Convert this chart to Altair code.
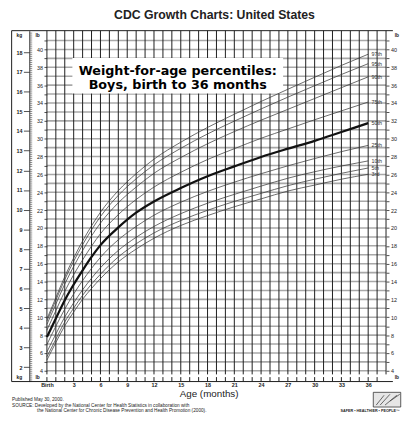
import altair as alt
import pandas as pd

# ---------------- data (kg) ----------------
ages = [0, 1, 2, 3, 4, 5, 6, 8, 10, 12, 15, 18, 21, 24, 27, 30, 33, 36]
p3 = [2.36, 3.25, 4.10, 4.80, 5.45, 6.00, 6.50, 7.35, 8.00, 8.55, 9.20, 9.70, 10.15, 10.55, 10.95, 11.25, 11.55, 11.80]
p5 = [2.53, 3.42, 4.30, 5.00, 5.65, 6.22, 6.72, 7.60, 8.27, 8.82, 9.45, 9.97, 10.42, 10.83, 11.22, 11.55, 11.85, 12.12]
p10 = [2.77, 3.68, 4.55, 5.27, 5.93, 6.52, 7.05, 7.93, 8.60, 9.15, 9.80, 10.33, 10.78, 11.20, 11.60, 11.93, 12.22, 12.48]
p25 = [3.15, 4.08, 4.95, 5.72, 6.40, 7.02, 7.58, 8.47, 9.15, 9.72, 10.38, 10.93, 11.40, 11.83, 12.23, 12.60, 12.95, 13.27]
p50 = [3.53, 4.47, 5.40, 6.20, 6.92, 7.60, 8.20, 9.10, 9.85, 10.42, 11.10, 11.70, 12.20, 12.68, 13.10, 13.50, 13.95, 14.40]
p75 = [3.88, 4.87, 5.85, 6.70, 7.45, 8.15, 8.78, 9.75, 10.52, 11.15, 11.90, 12.55, 13.10, 13.63, 14.10, 14.57, 15.02, 15.47]
p90 = [4.17, 5.20, 6.22, 7.12, 7.93, 8.67, 9.32, 10.35, 11.15, 11.85, 12.65, 13.35, 13.97, 14.55, 15.10, 15.65, 16.20, 16.75]
p95 = [4.34, 5.40, 6.45, 7.38, 8.22, 8.98, 9.65, 10.73, 11.57, 12.28, 13.12, 13.85, 14.50, 15.12, 15.72, 16.30, 16.87, 17.42]
p97 = [4.45, 5.53, 6.60, 7.55, 8.41, 9.18, 9.87, 10.97, 11.83, 12.57, 13.43, 14.18, 14.85, 15.50, 16.12, 16.73, 17.33, 17.90]
pct_names = ["3rd", "5th", "10th", "25th", "50th", "75th", "90th", "95th", "97th"]
series = [p3, p5, p10, p25, p50, p75, p90, p95, p97]

x_ticks = [0, 3, 6, 9, 12, 15, 18, 21, 24, 27, 30, 33, 36]
x_tick_labels = ["Birth", "3", "6", "9", "12", "15", "18", "21", "24", "27", "30", "33", "36"]
grid_months = list(range(0, 39))
strip_months = list(range(0, 38))
lb_ticks = list(range(4, 42))
kg_ticks = list(range(2, 19))
kg_minor = [round(v / 10, 1) for v in range(13, 191)]

title_text = "CDC Growth Charts: United States"
inner_title = ["Weight-for-age percentiles:", "Boys, birth to 36 months"]
x_title = "Age (months)"
footer = [
    "Published May 30, 2000.",
    "SOURCE: Developed by the National Center for Health Statistics in collaboration with",
    "the National Center for Chronic Disease Prevention and Health Promotion (2000).",
]
logo_text = "SAFER \u2022 HEALTHIER \u2022 PEOPLE\u2122"

# ---------------- layout ----------------
W, H = 346, 358
LB = 2.20462
LB_DOM = [2.8, 42.1]
KG_DOM = [LB_DOM[0] / LB, LB_DOM[1] / LB]
FONT = "Liberation Sans"

rows = []
for name, vals in zip(pct_names, series):
    for a, v in zip(ages, vals):
        rows.append({"age": a, "kg": v, "pct": name})
curves = pd.DataFrame(rows)
ends = pd.DataFrame({"age": [ages[-1]] * len(series),
                     "kg": [s[-1] for s in series], "pct": pct_names})

x_scale = alt.Scale(domain=[0, 38], nice=False, zero=False)
y_scale = alt.Scale(domain=LB_DOM, nice=False, zero=False)
label_expr = " : ".join(f"datum.value == {v} ? '{t}'" for v, t in zip(x_ticks, x_tick_labels)) + " : ''"
x_axis = alt.Axis(values=x_ticks, labelExpr=label_expr, ticks=False, domain=False, grid=False,
                  title=None, labelFontSize=5.5, labelFontWeight="bold", labelFont=FONT,
                  labelColor="#222", labelPadding=1.5, labelFlush=False, labelOverlap=False)
lb_left_axis = alt.Axis(orient="left", values=lb_ticks, labelExpr="datum.value % 2 == 0 ? datum.label : ''",
                        tickSize=3, tickColor="#222", tickWidth=0.8, domain=False, grid=False, title=None,
                        labelFontSize=5.5, labelFont=FONT, labelColor="#222", labelPadding=1.5,
                        labelOverlap=False)

X = lambda f: alt.X(f, type="quantitative", scale=x_scale, axis=x_axis)
Y = lambda f: alt.Y(f, type="quantitative", scale=y_scale, axis=lb_left_axis)

hgrid = alt.Chart(pd.DataFrame({"lb": lb_ticks})).mark_rule(color="#a8a8a8", strokeWidth=1.6).encode(
    y=Y("lb"), x=alt.value(0), x2=alt.value(W))

vgrid = alt.Chart(pd.DataFrame({"m": grid_months})).transform_calculate(
    y0="3.6", y1="42.1").mark_rule(color="#1c1c1c", strokeWidth=1).encode(
    x=X("m"), y=Y("y0:Q"), y2="y1:Q")

strip = alt.Chart(pd.DataFrame({"m": strip_months})).transform_calculate(
    y0="2.8", y1="3.3").mark_rule(color="#1c1c1c", strokeWidth=1).encode(
    x=X("m"), y=Y("y0:Q"), y2="y1:Q")

box = alt.Chart(alt.Data(values=[{}])).mark_rect(color="white").encode(
    x=alt.value(26), x2=alt.value(241), y=alt.value(28), y2=alt.value(64))

thin = alt.Chart(curves).transform_filter("datum.pct != '50th'").transform_calculate(
    lb=f"datum.kg * {LB}").mark_line(interpolate="monotone", color="#383838", strokeWidth=0.75).encode(
    x=X("age"), y=Y("lb:Q"), detail="pct:N")

bold = alt.Chart(curves).transform_filter("datum.pct == '50th'").transform_calculate(
    lb=f"datum.kg * {LB}").mark_line(interpolate="monotone", color="#111", strokeWidth=2.3).encode(
    x=X("age"), y=Y("lb:Q"))

labels = alt.Chart(ends).transform_calculate(lb=f"datum.kg * {LB}").mark_text(
    align="left", baseline="middle", dx=3.5, fontSize=5.5, font=FONT, color="#333").encode(
    x=X("age"), y=Y("lb:Q"), text="pct:N")

main = alt.layer(hgrid, vgrid, strip, box, thin, bold, labels)

# kg axis (major), kg minor comb, right lb axis
kg_major = alt.Chart(pd.DataFrame({"kg": KG_DOM})).mark_point(opacity=0).encode(
    y=alt.Y("kg:Q", scale=alt.Scale(domain=KG_DOM, nice=False, zero=False),
            axis=alt.Axis(orient="left", offset=18, values=kg_ticks, tickSize=6, tickColor="#222",
                          tickWidth=0.8, domainColor="#222", domainWidth=0.9, grid=False, title=None,
                          labelFontSize=5.5, labelFontWeight="bold", labelFont=FONT,
                          labelColor="#222", labelPadding=1.5, labelOverlap=False)))
kg_comb = alt.Chart(pd.DataFrame({"kg": KG_DOM})).mark_point(opacity=0).encode(
    y=alt.Y("kg:Q", scale=alt.Scale(domain=KG_DOM, nice=False, zero=False),
            axis=alt.Axis(orient="right", offset=-(W + 18), values=kg_minor, tickSize=2.5,
                          tickColor="#444", tickWidth=0.6, labels=False, domain=False,
                          grid=False, title=None)))
lb_right = alt.Chart(pd.DataFrame({"lb": LB_DOM})).mark_point(opacity=0).encode(
    y=alt.Y("lb:Q", scale=alt.Scale(domain=LB_DOM, nice=False, zero=False),
            axis=alt.Axis(orient="right", values=lb_ticks,
                          labelExpr="datum.value % 2 == 0 ? datum.label : ''",
                          tickSize=3, tickColor="#222", tickWidth=0.8, domain=False, grid=False,
                          title=None, labelFontSize=5.5, labelFont=FONT, labelColor="#222",
                          labelPadding=1.5, labelOverlap=False)))

# frame
def rule(x, x2, y, y2, w=1.0, color="#1c1c1c"):
    return alt.Chart(alt.Data(values=[{}])).mark_rule(color=color, strokeWidth=w).encode(
        x=alt.value(x), x2=alt.value(x2), y=alt.value(y), y2=alt.value(y2))

frame = [rule(-36, W + 7, 0, 0), rule(-36, W + 7, H, H), rule(-36, -36, 0, H)]

# logo block (bottom right)
logo_box = alt.Chart(alt.Data(values=[{}])).mark_rect(
    fill="#e6e6e6", stroke="#333", strokeWidth=0.8).encode(
    x=alt.value(333), x2=alt.value(361), y=alt.value(369), y2=alt.value(384))
logo_marks = [rule(336, 344, 382, 372, 0.8, "#444"), rule(340, 350, 382, 371, 0.8, "#444"),
              rule(345, 357, 382, 372, 0.8, "#444"), rule(350, 360, 378, 371, 0.8, "#444")]

def txt(s, x, y, size=5.5, weight="normal", align="center", font=FONT, color="#222"):
    return alt.Chart(alt.Data(values=[{}])).mark_text(
        align=align, baseline="middle", fontSize=size, fontWeight=weight, font=font, color=color).encode(
        x=alt.value(x), y=alt.value(y), text=alt.value(s))

texts = [
    txt(title_text, 171, -16, size=12.5, weight="bold"),
    txt(inner_title[0], 133.5, 41, size=13, weight="bold", font="DejaVu Sans", color="#000"),
    txt(inner_title[1], 133.5, 55.5, size=13, weight="bold", font="DejaVu Sans", color="#000"),
    txt(x_title, 165.5, 371, size=10),
    txt(footer[0], -35.5, 377, size=4.8, align="left"),
    txt(footer[1], -35.5, 382.5, size=4.8, align="left"),
    txt(footer[2], -10, 388, size=4.8, align="left"),
    txt(logo_text, 360, 388.5, size=3.8, weight="bold", align="right"),
    txt("kg", -28, 4, size=5, weight="bold"),
    txt("lb", -9.5, 4, size=5, weight="bold"),
    txt("lb", 357, 4, size=5, weight="bold"),
    txt("kg", -28, 353.5, size=5, weight="bold"),
    txt("lb", -9.5, 353.5, size=5, weight="bold"),
    txt("lb", 357, 353.5, size=5, weight="bold"),
]

chart = alt.layer(main, kg_major, kg_comb, lb_right, *frame, logo_box, *logo_marks, *texts).resolve_scale(
    y="independent"
).properties(
    width=W, height=H,
    padding={"left": 39.7, "top": 19, "right": 16.3, "bottom": 30},
    autosize=alt.AutoSizeParams(type="none"),
    background="white",
).configure_view(strokeWidth=0)

chart.save("out.html", embed_options={"renderer": "svg", "actions": False})
